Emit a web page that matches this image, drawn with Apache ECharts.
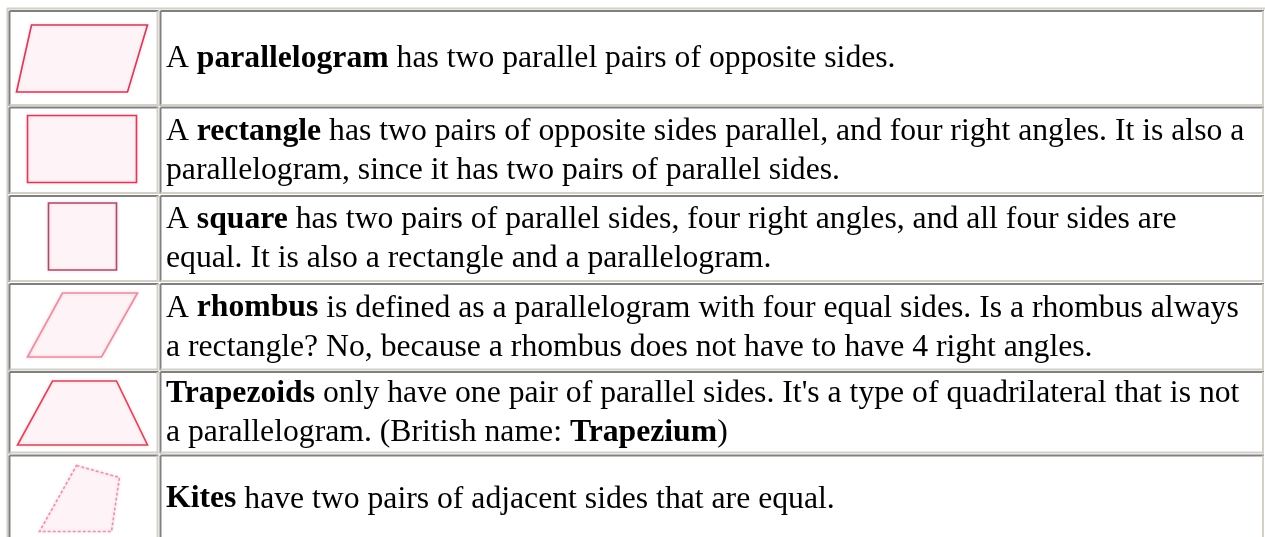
<!DOCTYPE html>
<html>
<head>
<meta charset="utf-8">
<script src="https://cdn.jsdelivr.net/npm/echarts@6/dist/echarts.min.js"></script>
<style>html,body{margin:0;padding:0;background:#fff}</style>
</head>
<body>
<div id="main" style="width:1265px;height:537px"></div>
<script>
// rows of the table: shape name and its description (lines as broken in the picture)
var shapeNames = ['parallelogram', 'rectangle', 'square', 'rhombus', 'trapezoid', 'kite']
var descLines = [
  ['A {b|parallelogram} has two parallel pairs of opposite sides.'],
  ['A {b|rectangle} has two pairs of opposite sides parallel, and four right angles. It is also a',
    'parallelogram, since it has two pairs of parallel sides.'],
  ['A {b|square} has two pairs of parallel sides, four right angles, and all four sides are',
    'equal. It is also a rectangle and a parallelogram.'],
  ['A {b|rhombus} is defined as a parallelogram with four equal sides. Is a rhombus always',
    'a rectangle? No, because a rhombus does not have to have 4 right angles.'],
  ['{b|Trapezoids} only have one pair of parallel sides. It\'s a type of quadrilateral that is not',
    'a parallelogram. (British name: {b|Trapezium})'],
  ['{b|Kites} have two pairs of adjacent sides that are equal.']
]
// outline of each shape, offsets inside its picture cell
var shapeOutlines = [
  [[22, 14], [138, 14], [118, 81], [7, 81]],
  [[18, 8], [127, 8], [127, 75], [18, 75]],
  [[39, 7], [107, 7], [107, 74], [39, 74]],
  [[53, 9], [128, 9], [92, 73], [18, 73]],
  [[43, 9], [107, 9], [138, 73], [8, 73]],
  [[67, 10], [110, 22], [102, 76], [30, 76]]
]
var shapeColors = ['#c9405f', '#d2405c', '#a3506a', '#e391a3', '#d24a5c', '#e09aab']

// table geometry
var rowTop = [11, 107.5, 196, 284, 372, 455.5]
var rowBot = [105, 193, 281, 369.5, 452.5, 541]
var colL = [9.5, 160.5]
var colR = [157.5, 1263]

var chart = echarts.init(document.getElementById('main'))
var els = []
var DARK = '#808080'
var LIGHT = '#d4d0c8'

function line(x1, y1, x2, y2, color) {
  els.push({ type: 'line', shape: { x1: x1, y1: y1, x2: x2, y2: y2 }, style: { stroke: color, lineWidth: 2 } })
}

// outer table border
line(7, 8.5, 1265, 8.5, LIGHT)
line(7.5, 8, 7.5, 537, LIGHT)

shapeNames.forEach(function (name, i) {
  for (var c = 0; c < 2; c++) {
    var L = colL[c], R = colR[c], T = rowTop[i], B = rowBot[i]
    line(L, T, R + 1, T, DARK)
    line(L, T, L, B + 1, DARK)
    line(L, B, R + 1, B, LIGHT)
    line(R, T, R, B + 1, LIGHT)
  }
  // picture of the shape
  var pts = shapeOutlines[i].map(function (p) { return [colL[0] + p[0], rowTop[i] + p[1]] })
  els.push({
    type: 'polygon',
    shape: { points: pts },
    style: {
      fill: 'rgba(255,238,243,0.15)',
      stroke: shapeColors[i],
      lineWidth: 1.6,
      lineDash: name === 'kite' ? [3, 2] : null,
      shadowBlur: 3,
      shadowColor: 'rgba(235,120,150,0.45)'
    }
  })
  // description
  els.push({
    type: 'text',
    x: 166,
    y: (rowTop[i] + rowBot[i]) / 2 + 1,
    style: {
      text: descLines[i].join('\n'),
      fill: '#000',
      fontSize: 31.7,
      fontFamily: 'Liberation Serif',
      lineHeight: 39,
      verticalAlign: 'middle',
      rich: {
        b: { fontWeight: 'bold', fontSize: 31.7, fontFamily: 'Liberation Serif', fill: '#000', lineHeight: 39 }
      }
    }
  })
})

chart.setOption({ backgroundColor: '#fff', graphic: { elements: els } })
</script>
</body>
</html>
